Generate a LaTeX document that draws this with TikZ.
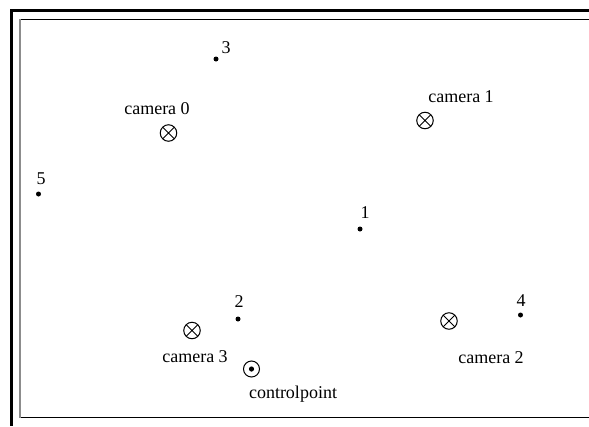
\documentclass[tikz,border=0pt]{standalone}
\usepackage{fontspec}
\setmainfont{Liberation Serif}
\begin{document}
\begin{tikzpicture}[x=1pt,y=1pt,
  lbl/.style={inner sep=0pt,font=\fontsize{18}{20}\selectfont},
  pt/.style={circle,fill=black,inner sep=0pt,minimum size=5pt},
  cam/.style={circle,draw=black,line width=1pt,inner sep=0pt,minimum size=16.5pt,
    path picture={\draw[line width=0.9pt] (path picture bounding box.north west) -- (path picture bounding box.south east)
      (path picture bounding box.north east) -- (path picture bounding box.south west);}},
  ctrl/.style={circle,draw=black,line width=1pt,inner sep=0pt,minimum size=16pt,
    path picture={\fill (path picture bounding box.center) circle (2.6pt);}},
  outerline/.style={line width=2.5pt,black},
  innerline/.style={line width=1.3pt,black}
]
\useasboundingbox (0,0) rectangle (589,-426);
% frame
\coordinate (otl) at (11.3,-10.5);
\coordinate (otr) at (589,-10.5);
\coordinate (obl) at (11.3,-426);
\draw[outerline] (otr) -- (otl) -- (obl);
\coordinate (itl) at (19.8,-19.3);
\coordinate (itr) at (589,-19.3);
\coordinate (ibl) at (19.8,-417.5);
\coordinate (ibr) at (589,-417.5);
\draw[innerline] (itl) -- (itr);
\draw[innerline] (ibl) -- (ibr);
\draw[line width=1.7pt,black!45] (itl) -- (ibl);
% points
\node[pt] (p1) at (360,-229) {};
\node[lbl] (l1) at (365,-213) {1};
\node[pt] (p2) at (238,-319) {};
\node[lbl] (l2) at (239,-302) {2};
\node[pt] (p3) at (216,-59) {};
\node[lbl] (l3) at (226,-48) {3};
\node[pt] (p4) at (520.5,-315) {};
\node[lbl] (l4) at (521,-301) {4};
\node[pt] (p5) at (38.5,-194) {};
\node[lbl] (l5) at (41,-179) {5};
% cameras
\node[cam] (c0) at (168.5,-133) {};
\node[lbl] (lc0) at (157,-109) {camera 0};
\node[cam] (c1) at (425,-120.5) {};
\node[lbl] (lc1) at (461,-97) {camera 1};
\node[cam] (c2) at (449,-321) {};
\node[lbl] (lc2) at (491,-358) {camera 2};
\node[cam] (c3) at (192,-330.5) {};
\node[lbl] (lc3) at (195,-357) {camera 3};
% control point
\node[ctrl] (cp) at (251.5,-369) {};
\node[lbl] (lcp) at (293,-394) {controlpoint};
\end{tikzpicture}
\end{document}
